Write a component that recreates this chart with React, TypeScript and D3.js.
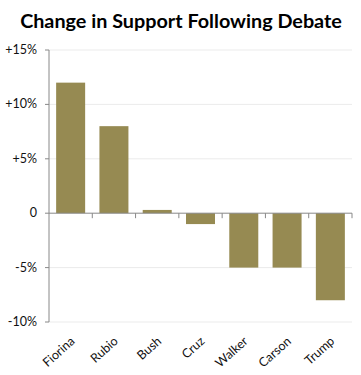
import * as d3 from "d3";

const candidates = ["Fiorina", "Rubio", "Bush", "Cruz", "Walker", "Carson", "Trump"];
const changes = [12, 8, 0.3, -1, -5, -5, -8];
const yTickValues = [15, 10, 5, 0, -5, -10];
const yTickLabels = ["+15%", "+10%", "+5%", "0", "-5%", "-10%"];

export default function App() {
  const width = 361;
  const height = 375;
  const margin = { top: 50, right: 9, bottom: 53, left: 49 };
  const x = d3
    .scaleBand()
    .domain(candidates)
    .range([margin.left, width - margin.right])
    .paddingInner(0.33)
    .paddingOuter(0.165);
  const y = d3.scaleLinear().domain([-10, 15]).range([height - margin.bottom, margin.top]);
  const step = x.step();
  const font = "Lato, 'Open Sans', sans-serif";

  return (
    <svg
      width={width}
      height={height}
      viewBox={`0 0 ${width} ${height}`}
      style={{ position: "absolute", left: 0, top: 0, background: "#fff" }}
    >
      <text x={181} y={28} textAnchor="middle" fontFamily={font} fontWeight={700} fontSize={19.8} fill="#000">
        Change in Support Following Debate
      </text>
      {yTickValues.map((tick, i) => (
        <g key={tick}>
          {tick !== 0 ? (
            <line x1={margin.left} x2={width - margin.right} y1={y(tick)} y2={y(tick)} stroke="#ebebeb" />
          ) : null}
          <line x1={margin.left - 4} x2={margin.left} y1={y(tick)} y2={y(tick)} stroke="#888" />
          <text x={margin.left - 12} y={y(tick) + 4} textAnchor="end" fontFamily={font} fontSize={12.5} fill="#111">
            {yTickLabels[i]}
          </text>
        </g>
      ))}
      {candidates.map((name, i) => {
        const v = changes[i];
        const bx = x(name) ?? 0;
        return (
          <rect
            key={name}
            x={bx}
            y={y(Math.max(v, 0))}
            width={x.bandwidth()}
            height={Math.abs(y(v) - y(0))}
            fill="#968a52"
          />
        );
      })}
      <line x1={margin.left} x2={margin.left} y1={y(15)} y2={y(-10)} stroke="#888" />
      <line x1={margin.left} x2={width - margin.right} y1={y(0)} y2={y(0)} stroke="#888" />
      {candidates.map((name, i) => (
        <line
          key={name}
          x1={margin.left + step * (i + 1)}
          x2={margin.left + step * (i + 1)}
          y1={y(0)}
          y2={y(0) + 5}
          stroke="#888"
        />
      ))}
      {candidates.map((name) => {
        const cx = (x(name) ?? 0) + x.bandwidth() / 2;
        return (
          <text
            key={name}
            transform={`translate(${cx + 2}, ${y(-10) + 17}) rotate(-42)`}
            textAnchor="end"
            dy="0.35em"
            fontFamily={font}
            fontSize={12.5}
            fill="#111"
          >
            {name}
          </text>
        );
      })}
    </svg>
  );
}
